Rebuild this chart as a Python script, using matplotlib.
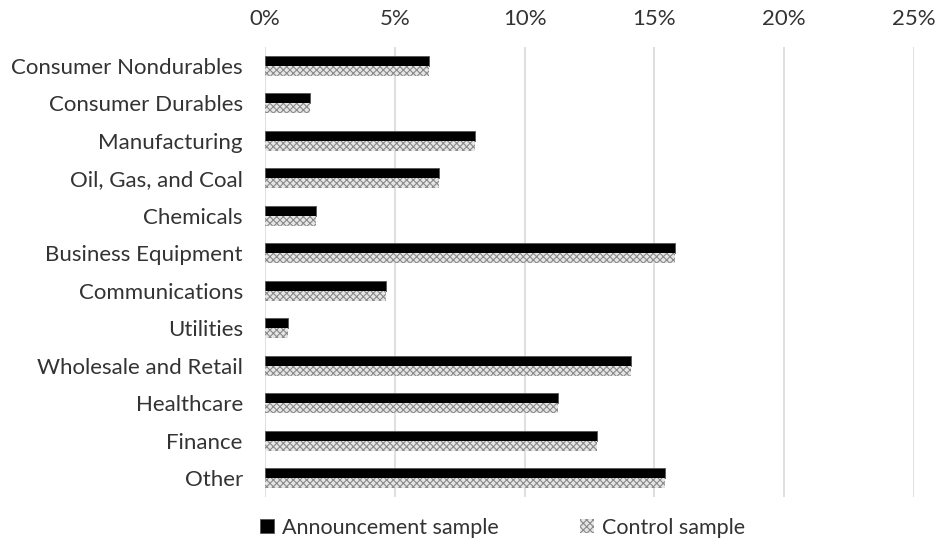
import matplotlib
matplotlib.use("Agg")
import matplotlib.pyplot as plt
import numpy as np
from matplotlib.ticker import FuncFormatter

categories = ["Consumer Nondurables", "Consumer Durables", "Manufacturing",
              "Oil, Gas, and Coal", "Chemicals", "Business Equipment",
              "Communications", "Utilities", "Wholesale and Retail",
              "Healthcare", "Finance", "Other"]
announcement = [6.3, 1.75, 8.1, 6.7, 1.95, 15.8, 4.65, 0.88, 14.1, 11.3, 12.8, 15.4]
control = [6.3, 1.75, 8.1, 6.7, 1.95, 15.8, 4.65, 0.88, 14.1, 11.3, 12.8, 15.4]
xticks = [0, 5, 10, 15, 20, 25]

plt.rcParams['font.family'] = ['Lato', 'DejaVu Sans']
plt.rcParams['hatch.linewidth'] = 0.8

fig = plt.figure(figsize=(9.4, 5.46), dpi=100)
ax = fig.add_axes([265/940, 1-497/546, (914-265)/940, (497-47)/546])

y = np.arange(len(categories))
h = 0.267
ax.barh(y - h/2, announcement, height=h, color='black', edgecolor='#555555',
        linewidth=0.6, label='Announcement sample', zorder=3)
plt.rcParams['hatch.color'] = '#8a8a8a'
ax.barh(y + h/2, control, height=h, color='#e6e6e6', edgecolor='#8a8a8a',
        hatch='xxxxx', linewidth=0, label='Control sample', zorder=3)

ax.set_ylim(len(categories) - 0.5, -0.5)
ax.set_xlim(0, 25)
ax.set_xticks(xticks)
ax.xaxis.set_major_formatter(FuncFormatter(lambda v, p: f"{v:.0f}%"))
ax.xaxis.tick_top()
ax.set_yticks(y)
ax.set_yticklabels(categories)
ax.tick_params(axis='both', length=0, labelsize=16, colors='#333333')
ax.tick_params(axis='x', pad=13)
ax.tick_params(axis='y', pad=16)
ax.grid(axis='x', color='#d9d9d9', linewidth=1.2, zorder=0)
for s in ax.spines.values():
    s.set_visible(False)

leg = ax.legend(loc='center', bbox_to_anchor=(0.366, -0.068), ncol=2,
                frameon=False, fontsize=15.5, handlelength=0.65, handleheight=0.65,
                handletextpad=0.35, columnspacing=3.8)
for t in leg.get_texts():
    t.set_color('#333333')

fig.savefig("out.png", dpi=100)
